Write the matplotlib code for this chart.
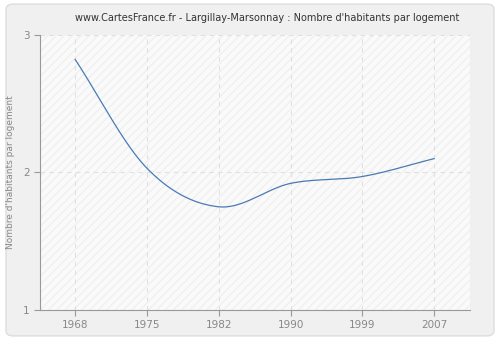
import numpy as np
import matplotlib.pyplot as plt
from matplotlib.patches import FancyBboxPatch

years = ['1968', '1975', '1982', '1990', '1999', '2007']
values = [2.82, 2.03, 1.75, 1.92, 1.97, 2.10]


def smooth(x, y, n=40):
    # catmull-rom through the points
    x = np.asarray(x, float)
    y = np.asarray(y, float)
    m = np.zeros_like(y)
    m[1:-1] = (y[2:] - y[:-2]) / (x[2:] - x[:-2])
    m[0] = (y[1] - y[0]) / (x[1] - x[0])
    m[-1] = (y[-1] - y[-2]) / (x[-1] - x[-2])
    xs, ys = [], []
    for i in range(len(x) - 1):
        h = x[i + 1] - x[i]
        t = np.linspace(0, 1, n)
        h00 = 2 * t**3 - 3 * t**2 + 1
        h10 = t**3 - 2 * t**2 + t
        h01 = -2 * t**3 + 3 * t**2
        h11 = t**3 - t**2
        xs.append(x[i] + t * h)
        ys.append(h00 * y[i] + h10 * h * m[i] + h01 * y[i + 1] + h11 * h * m[i + 1])
    return np.concatenate(xs), np.concatenate(ys)


fig = plt.figure(figsize=(5, 3.4), dpi=100)
fig.patch.set_facecolor('white')
fig.patches.append(FancyBboxPatch((0.012, 0.012), 0.976, 0.976, boxstyle='round,pad=0,rounding_size=0.015',
                                  transform=fig.transFigure, facecolor='#f0f0f0', edgecolor='#dddddd',
                                  linewidth=1, zorder=-10))

ax = fig.add_axes([0.08, 0.088, 0.86, 0.81])
ax.set_facecolor('#fafafa')
ax.patch.set_hatch('////')
ax.patch.set_edgecolor('#f0f0f0')
ax.patch.set_linewidth(0)

pos = np.arange(len(years))
sx, sy = smooth(pos, values)
ax.plot(sx, sy, color='#4a7ab5', linewidth=0.9, zorder=3)

ax.set_xlim(-0.49, len(years) - 1 + 0.5)
ax.set_ylim(1, 3)
ax.set_xticks(pos)
ax.set_xticklabels(years)
ax.set_yticks([1, 2, 3])
ax.grid(True, color='#e0e0e0', linestyle=(0, (4, 4)), linewidth=0.8)
for s in ['top', 'right']:
    ax.spines[s].set_visible(False)
for s in ['left', 'bottom']:
    ax.spines[s].set_color('#999999')
ax.tick_params(colors='#888888', labelsize=7.5, length=4, color='#999999')
ax.set_ylabel("Nombre d'habitants par logement", fontsize=6.5, color='#888888', labelpad=6)
fig.text(0.535, 0.948, "www.CartesFrance.fr - Largillay-Marsonnay : Nombre d'habitants par logement",
         fontsize=7, color='#333333', ha='center', va='center')

fig.savefig('out.png', dpi=100, facecolor=fig.get_facecolor())
